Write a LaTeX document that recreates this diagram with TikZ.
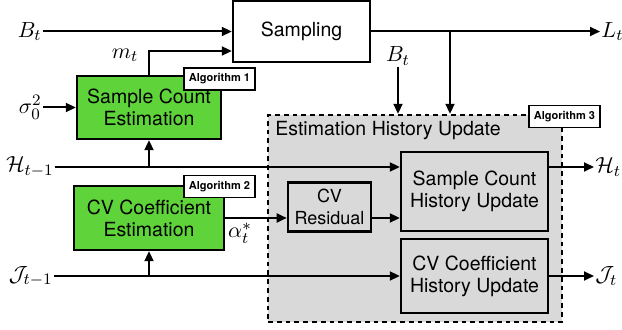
\documentclass[tikz,border=0pt]{standalone}
\usepackage[no-math]{fontspec}
\setmainfont{TeX Gyre Heros}
\usetikzlibrary{arrows.meta}
\definecolor{blockgreen}{HTML}{5ED43A}
\definecolor{histgray}{HTML}{D9D9D9}
\begin{document}
\begin{tikzpicture}[x=0.5pt,y=-0.5pt,
    block/.style={rectangle,draw,line width=1.2pt,align=center,
      font=\fontsize{9.75}{11}\selectfont},
    algo/.style={rectangle,draw,fill=white,line width=0.6pt,inner sep=0pt,
      minimum width=35.5pt,minimum height=11pt,
      font=\bfseries\fontsize{5.5}{6}\selectfont},
    sym/.style={inner sep=0.5pt,font=\fontsize{11}{13}\selectfont},
    flow/.style={-{Triangle[length=5pt,width=4.5pt]},line width=1pt}]
  \useasboundingbox (0,0) rectangle (622,330);
  \node[rectangle,draw,dash pattern=on 2.4pt off 2pt,line width=1.2pt,
    fill=histgray,minimum width=147pt,minimum height=103.5pt] (hist) at
    (415,218.5) {};
  \node[anchor=west,inner sep=0pt,font=\fontsize{9.75}{11}\selectfont]
    (histtitle) at (275,131) {Estimation History Update};
  \node[block,minimum width=68.5pt,minimum height=30.5pt] (samp) at
    (301.5,31.5) {Sampling};
  \node[block,fill=blockgreen,minimum width=72pt,minimum height=31.5pt]
    (cntest) at (149,107.5) {Sample Count\\Estimation};
  \node[block,fill=blockgreen,minimum width=75pt,minimum height=32pt]
    (cvest) at (149,218) {CV Coefficient\\Estimation};
  \node[block,fill=histgray,font=\fontsize{9}{10.8}\selectfont,
    minimum width=40.5pt,minimum height=24pt] (resid) at
    (329.5,207) {CV\\Residual};
  \node[block,fill=histgray,minimum width=73.5pt,minimum height=39.5pt]
    (cntupd) at (474.5,191.5) {Sample Count\\History Update};
  \node[block,fill=histgray,minimum width=73.5pt,minimum height=37pt]
    (cvupd) at (474.5,276) {CV Coefficient\\History Update};
  \node[algo] (algA) at (219.5,79) {Algorithm 1};
  \node[algo] (algB) at (219.5,186.5) {Algorithm 2};
  \node[algo] (algC) at (564.5,116.5) {Algorithm 3};
  \node[sym,anchor=east] (bin) at (43,31.5) {$B_t$};
  \node[sym,anchor=east] (sig) at (43,107.5) {$\sigma_0^2$};
  \node[sym] (mlab) at (125,55) {$m_t$};
  \node[sym,anchor=east] (hin) at (55,167) {$\mathcal{H}_{t-1}$};
  \node[sym,anchor=east] (jin) at (54,276) {$\mathcal{J}_{t-1}$};
  \node[sym] (alab) at (240,233) {$\alpha_t^*$};
  \node[sym] (bmid) at (398,56) {$B_t$};
  \node[sym,anchor=west] (lout) at (600,31.5) {$L_t$};
  \node[sym,anchor=west] (hout) at (594,167) {$\mathcal{H}_t$};
  \node[sym,anchor=west] (jout) at (594,276) {$\mathcal{J}_t$};
  \coordinate (lsplit) at (450,31.5);
  \draw[flow] (bin) -- (bin -| samp.west);
  \draw[flow] (cntest.north) |- ([yshift=-9.75pt]samp.west);
  \draw[flow] (sig) -- (sig -| cntest.west);
  \draw[flow] (hin) -- (hin -| cntupd.west);
  \draw[flow] (hin -| cntest.south) -- (cntest.south);
  \draw[flow] (jin) -- (jin -| cvupd.west);
  \draw[flow] (jin -| cvest.south) -- (cvest.south);
  \draw[flow] (cvest) -- (cvest -| resid.west);
  \draw[flow] (cvest -| resid.east) -- (cvest -| cntupd.west);
  \draw[flow] (cntupd.east |- hout.west) -- (hout.west);
  \draw[flow] (cvupd.east |- jout.west) -- (jout.west);
  \draw[flow] (samp.east) -- (lout.west);
  \draw[flow] (lsplit) -- (lsplit |- hist.north);
  \draw[flow] (bmid) -- (bmid |- hist.north);
\end{tikzpicture}
\end{document}
